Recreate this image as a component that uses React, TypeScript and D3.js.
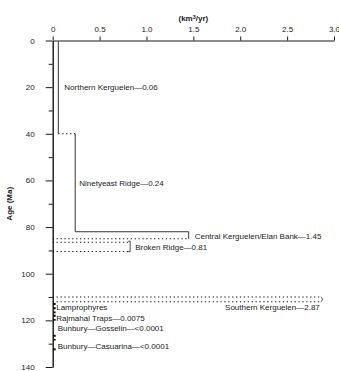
import React, { useRef, useEffect } from "react";
import * as d3 from "d3";

// eruption rate axis (km3/yr) and age axis (Ma)
const rateTicks = [0, 0.5, 1.0, 1.5, 2.0, 2.5, 3.0];
const ageMajorTicks = [0, 20, 40, 60, 80, 100, 120, 140];
const ageMinorTicks = [10, 30, 50, 70, 90, 110, 130];

// main provinces
const provinceNames = ["Northern Kerguelen", "Ninetyeast Ridge", "Central Kerguelen/Elan Bank", "Broken Ridge", "Southern Kerguelen"];
const provinceRates = [0.06, 0.24, 1.45, 0.81, 2.87];
const provinceRateText = ["0.06", "0.24", "1.45", "0.81", "2.87"];
const provinceAgeFrom = [0, 40, 82, 86.5, 110];
const provinceAgeTo = [40, 82, 85, 90.5, 112];

// small provinces near zero rate
const smallNames = ["Lamprophyres", "Rajmahal Traps—0.0075", "Bunbury—Gosselin—<0.0001", "Bunbury—Casuarina—<0.0001"];
const smallAgeFrom = [112.6, 117.6, 126.2, 132];
const smallAgeTo = [117, 120.2, 128.6, 133];
const smallLabelAge = [114.3, 119.2, 123.3, 131.2];

const W = 339;
const H = 371;
const FONT = "'Liberation Sans', Arial, Helvetica, sans-serif";
const FS = 8;

export default function App() {
  const svgRef = useRef<SVGSVGElement>(null);

  useEffect(() => {
    const svg = d3.select(svgRef.current);
    svg.selectAll("*").remove();

    const x = d3.scaleLinear().domain([0, 3]).range([52.7, 334]);
    const y = d3.scaleLinear().domain([0, 140]).range([40.5, 367]);
    const ink = "#1a1a1a";
    const line = "#333";

    //axes
    const xAxis = d3
      .axisTop(x)
      .tickValues(rateTicks)
      .tickSize(4)
      .tickSizeOuter(0)
      .tickPadding(5)
      .tickFormat((d) => (d === 0 ? "0" : d3.format(".1f")(d as number)));
    const gx = svg.append("g").attr("transform", `translate(0,${y(0)})`).call(xAxis);

    const yAxis = d3.axisLeft(y).tickValues(ageMajorTicks).tickSize(7).tickSizeOuter(0).tickPadding(11);
    const gy = svg.append("g").attr("transform", `translate(${x(0)},0)`).call(yAxis);

    const yMinor = d3.axisLeft(y).tickValues(ageMinorTicks).tickSize(4).tickSizeOuter(0).tickFormat(() => "");
    const gm = svg.append("g").attr("transform", `translate(${x(0)},0)`).call(yMinor);

    [gx, gy, gm].forEach((g) => {
      g.selectAll("path,line").attr("stroke", ink).attr("stroke-width", 1);
      g.selectAll("text").attr("font-family", FONT).attr("font-size", FS).attr("fill", ink);
    });

    svg
      .append("text")
      .attr("x", x(1.5))
      .attr("y", 21)
      .attr("text-anchor", "middle")
      .attr("font-family", FONT)
      .attr("font-size", FS)
      .attr("font-weight", "bold")
      .attr("fill", ink)
      .html("(km<tspan font-size='5.5' dy='-2.5'>3</tspan><tspan dy='2.5'>/yr)</tspan>");

    svg
      .append("text")
      .attr("transform", `translate(12,${(y(0) + y(140)) / 2}) rotate(-90)`)
      .attr("text-anchor", "middle")
      .attr("font-family", FONT)
      .attr("font-size", FS)
      .attr("font-weight", "bold")
      .attr("fill", ink)
      .text("Age (Ma)");

    const seg = (x1, y1, x2, y2, dotted) =>
      svg
        .append("line")
        .attr("x1", x1)
        .attr("y1", y1)
        .attr("x2", x2)
        .attr("y2", y2)
        .attr("stroke", dotted ? "#111" : line)
        .attr("stroke-width", dotted ? 1.1 : 1)
        .attr("stroke-dasharray", dotted ? "1.3,2.6" : null);

    const label = (tx, ty, txt, anchor = "start") =>
      svg
        .append("text")
        .attr("x", tx)
        .attr("y", ty)
        .attr("dy", "0.35em")
        .attr("text-anchor", anchor)
        .attr("font-family", FONT)
        .attr("font-size", FS)
        .attr("fill", ink)
        .text(txt);

    const name = (i) => `${provinceNames[i]}—${provinceRateText[i]}`;

    // Northern Kerguelen and Ninetyeast Ridge: sustained output, solid lines
    seg(x(provinceRates[0]), y(provinceAgeFrom[0]) + 1, x(provinceRates[0]), y(provinceAgeTo[0]), false);
    label(x(provinceRates[0]) + 6, y((provinceAgeFrom[0] + provinceAgeTo[0]) / 2), name(0));
    seg(x(provinceRates[0]), y(provinceAgeTo[0]), x(provinceRates[1]), y(provinceAgeFrom[1]), true);
    seg(x(provinceRates[1]), y(provinceAgeFrom[1]), x(provinceRates[1]), y(provinceAgeTo[1]), false);
    label(x(provinceRates[1]) + 4, y((provinceAgeFrom[1] + provinceAgeTo[1]) / 2), name(1));

    // Central Kerguelen / Elan Bank
    seg(x(provinceRates[1]), y(provinceAgeFrom[2]), x(provinceRates[2]), y(provinceAgeFrom[2]), false);
    seg(x(provinceRates[2]), y(provinceAgeFrom[2]), x(provinceRates[2]), y(provinceAgeTo[2]), false);
    seg(x(0), y(provinceAgeTo[2]), x(provinceRates[2]), y(provinceAgeTo[2]), true);
    label(x(provinceRates[2]) + 6, y((provinceAgeFrom[2] + provinceAgeTo[2]) / 2) + 0.5, name(2));

    // Broken Ridge
    seg(x(0), y(provinceAgeFrom[3]), x(provinceRates[3]), y(provinceAgeFrom[3]), true);
    seg(x(0), y(provinceAgeTo[3]), x(provinceRates[3]), y(provinceAgeTo[3]), true);
    const bx = x(provinceRates[3]) + 1.5;
    svg
      .append("path")
      .attr("d", `M${bx - 2},${y(provinceAgeFrom[3]) - 1}H${bx}V${y(provinceAgeTo[3])}H${bx - 2}`)
      .attr("fill", "none")
      .attr("stroke", line)
      .attr("stroke-width", 0.9);
    label(bx + 5, y((provinceAgeFrom[3] + provinceAgeTo[3]) / 2), name(3));

    // Southern Kerguelen
    seg(x(0), y(provinceAgeFrom[4]), x(provinceRates[4]), y(provinceAgeFrom[4]), true);
    seg(x(0), y(provinceAgeTo[4]), x(provinceRates[4]), y(provinceAgeTo[4]), true);
    const sx = x(provinceRates[4]);
    svg
      .append("path")
      .attr("d", `M${sx - 1},${y(provinceAgeFrom[4])}Q${sx + 2.5},${(y(provinceAgeFrom[4]) + y(provinceAgeTo[4])) / 2} ${sx - 1},${y(provinceAgeTo[4])}`)
      .attr("fill", "none")
      .attr("stroke", line)
      .attr("stroke-width", 0.9);
    label(sx - 2, y(provinceAgeTo[4]) + 5.5, name(4), "end");

    // small provinces: heavy dotted marks just right of the axis
    smallNames.forEach((n, i) => {
      svg
        .append("line")
        .attr("x1", x(0) + 1.8)
        .attr("x2", x(0) + 1.8)
        .attr("y1", y(smallAgeFrom[i]))
        .attr("y2", y(smallAgeTo[i]))
        .attr("stroke", "#000")
        .attr("stroke-width", 2.2)
        .attr("stroke-dasharray", "2,2.2");
      label(x(0) + (i < 2 ? 3.5 : 5), y(smallLabelAge[i]), n);
    });
  }, []);

  return (
    <svg
      ref={svgRef}
      width={W}
      height={H}
      style={{ position: "absolute", left: 0, top: 0, background: "#fff" }}
    ></svg>
  );
}
